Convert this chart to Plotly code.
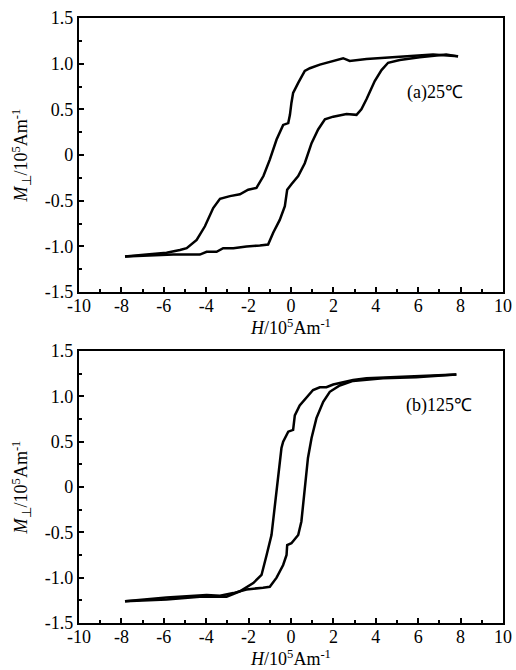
import plotly.graph_objects as go
from plotly.subplots import make_subplots

# (a) 25 C: descending (upper) branch then ascending (lower) branch
a_desc_H = [7.88, 6.7, 3.56, 2.77, 2.46, 1.99, 1.36, 0.89, 0.65, 0.34, 0.10, 0.02, 0.0, -0.05, -0.13, -0.37,
            -0.68, -1.0, -1.3, -1.63, -2.02, -2.41, -2.88, -3.35, -3.67, -4.06, -4.45, -4.92, -5.24, -5.87, -6.81, -7.83]
a_desc_M = [1.08, 1.10, 1.05, 1.03, 1.06, 1.03, 0.99, 0.95, 0.92, 0.79, 0.68, 0.57, 0.50, 0.44, 0.35, 0.33,
            0.17, -0.05, -0.23, -0.36, -0.38, -0.43, -0.45, -0.48, -0.58, -0.78, -0.93, -1.02, -1.04, -1.07, -1.09, -1.11]
a_asc_H = [-7.83, -6.65, -5.55, -4.3, -3.98, -3.51, -3.2, -2.72, -2.1, -1.47, -1.08, -0.84, -0.53, -0.29, -0.21,
           -0.18, 0.02, 0.34, 0.65, 0.97, 1.28, 1.6, 1.99, 2.62, 3.09, 3.32, 3.56, 3.95, 4.27, 4.58, 5.13, 6.07, 7.32, 7.88]
a_asc_M = [-1.11, -1.10, -1.09, -1.09, -1.06, -1.06, -1.02, -1.02, -1.0, -0.99, -0.98, -0.85, -0.71, -0.56, -0.42,
           -0.38, -0.32, -0.23, -0.09, 0.13, 0.28, 0.39, 0.42, 0.45, 0.44, 0.50, 0.61, 0.81, 0.93, 1.01, 1.04, 1.07, 1.10, 1.08]

# (b) 125 C
b_desc_H = [7.8, 5.13, 3.56, 2.93, 1.99, 1.67, 1.36, 1.04, 0.73, 0.41, 0.18, 0.10, -0.13, -0.37, -0.45, -0.6,
            -0.76, -0.92, -1.15, -1.39, -1.78, -2.41, -3.04, -4.3, -5.87, -7.83]
b_desc_M = [1.24, 1.21, 1.20, 1.18, 1.13, 1.10, 1.10, 1.07, 0.99, 0.90, 0.79, 0.63, 0.61, 0.50, 0.43, 0.13,
            -0.23, -0.53, -0.75, -0.97, -1.06, -1.15, -1.21, -1.21, -1.24, -1.26]
b_asc_H = [-7.83, -5.87, -3.98, -3.35, -2.72, -2.1, -1.32, -1.0, -0.68, -0.37, -0.21, -0.18, 0.02, 0.34, 0.49,
           0.65, 0.8, 0.97, 1.2, 1.52, 1.83, 2.3, 2.93, 4.34, 5.91, 7.8]
b_asc_M = [-1.26, -1.22, -1.19, -1.20, -1.17, -1.13, -1.11, -1.10, -1.0, -0.86, -0.75, -0.64, -0.62, -0.53, -0.38,
           0.02, 0.32, 0.54, 0.76, 0.94, 1.05, 1.12, 1.17, 1.20, 1.21, 1.24]

x_tickvals = [-10, -8, -6, -4, -2, 0, 2, 4, 6, 8, 10]
x_ticktext = ["-10", "-8", "-6", "-4", "-2", "0", "2", "4", "6", "8", "10"]
y_tickvals = [1.5, 1.0, 0.5, 0, -0.5, -1.0, -1.5]
y_ticktext = ["1.5", "1.0", "0.5", "0", "-0.5", "-1.0", "-1.5"]
labels = ["(a)25\u2103", "(b)125\u2103"]

FONT = "Liberation Serif"

fig = make_subplots(rows=2, cols=1, vertical_spacing=0.0)
line = dict(color="black", width=2.5)
fig.add_trace(go.Scatter(x=a_desc_H, y=a_desc_M, mode="lines", line=line), row=1, col=1)
fig.add_trace(go.Scatter(x=a_asc_H, y=a_asc_M, mode="lines", line=line), row=1, col=1)
fig.add_trace(go.Scatter(x=b_desc_H, y=b_desc_M, mode="lines", line=line), row=2, col=1)
fig.add_trace(go.Scatter(x=b_asc_H, y=b_asc_M, mode="lines", line=line), row=2, col=1)

xtitle = "<i>H</i>/10<sup>5</sup>Am<sup>-1</sup>"
ytitle = "<i>M</i><sub>\u22a5</sub>/10<sup>5</sup>Am<sup>-1</sup>"

axis_common = dict(showgrid=False, zeroline=False, showline=True, linecolor="black", linewidth=2.2,
                   mirror=True, ticks="inside", ticklen=5, tickwidth=2, tickcolor="black",
                   automargin=False,
                   tickfont=dict(family=FONT, size=18, color="black"))

for r in (1, 2):
    fig.update_xaxes(range=[-10, 10], tickvals=x_tickvals, ticktext=x_ticktext,
                     ticklabelstandoff=-4,
                     minor=dict(tickvals=[-9, -7, -5, -3, -1, 1, 3, 5, 7, 9], ticks="inside", ticklen=3,
                                tickcolor="black", tickwidth=2),
                     title=dict(text=xtitle, font=dict(family=FONT, size=18, color="black"), standoff=0),
                     row=r, col=1, **axis_common)
    fig.update_yaxes(range=[-1.5, 1.5], tickvals=y_tickvals, ticktext=y_ticktext,
                     minor=dict(tickvals=[1.25, 0.75, 0.25, -0.25, -0.75, -1.25], ticks="inside", ticklen=3,
                                tickcolor="black", tickwidth=2),
                     title=dict(text=ytitle, font=dict(family=FONT, size=18, color="black"), standoff=12),
                     row=r, col=1, **axis_common)

fig.update_layout(
    width=516, height=670,
    margin=dict(l=79, r=13, t=18, b=47),
    plot_bgcolor="white", paper_bgcolor="white",
    showlegend=False,
    xaxis=dict(domain=[0, 1]),
    yaxis=dict(domain=[0.547, 1.0]),
    yaxis2=dict(domain=[0.0, 0.4496]),
)
fig.add_annotation(x=6.8, y=0.69, xref="x", yref="y", text=labels[0], showarrow=False,
                   font=dict(family=FONT, size=18, color="black"))
fig.add_annotation(x=7.0, y=0.9, xref="x2", yref="y2", text=labels[1], showarrow=False,
                   font=dict(family=FONT, size=18, color="black"))

# remove the default page margin so the figure sits at the window's top-left corner
fig.write_html("out.html", config={"displayModeBar": False},
               post_script="document.body.style.margin='0';")
